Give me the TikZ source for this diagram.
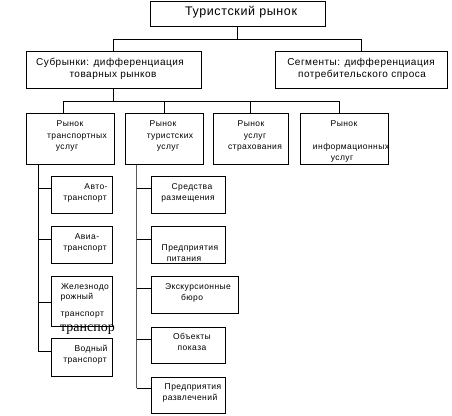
\documentclass[tikz,border=0pt]{standalone}
\usepackage{fontspec}
\setmainfont{Liberation Sans}[LetterSpace=5]
\newfontfamily\ovrfont{Liberation Serif}
\usetikzlibrary{fit}
\begin{document}
\begin{tikzpicture}[x=1pt,y=-1pt,line width=1pt,
  box/.style={draw=black,line width=1pt,inner sep=0pt},
  ts/.style={inner sep=0pt,anchor=mid,font=\fontsize{8.5}{10}\selectfont},
  tm/.style={inner sep=0pt,anchor=mid,font=\fontsize{10}{12}\selectfont},
  tl/.style={inner sep=0pt,anchor=mid,font=\fontsize{12.5}{14}\selectfont},
  conn/.style={draw=black,line width=1pt},
  gconn/.style={draw=black!65,line width=1.5pt}]
\useasboundingbox[fill=white] (0,0) rectangle (452,415);
% boxes
\node[box,fit={(150,1)(325,26)}] (top) {};
\node[box,fit={(26,51)(201,88)}] (sub) {};
\node[box,fit={(275,51)(447,88)}] (seg) {};
\node[box,fit={(26,113)(114,164)}] (A) {};
\node[box,fit={(125,113)(203,164)}] (B) {};
\node[box,fit={(213,113)(288,164)}] (C) {};
\node[box,fit={(300,113)(388,164)}] (D) {};
\node[box,fit={(51,176)(112,213)}] (L1) {};
\node[box,fit={(51,226)(112,263)}] (L2) {};
\node[box,fit={(51,276)(112,326)}] (L3) {};
\node[box,fit={(51,338)(112,376)}] (L4) {};
\node[box,fit={(151,176)(225,213)}] (R1) {};
\node[box,fit={(151,226)(225,263)}] (R2) {};
\node[box,fit={(151,276)(238,313)}] (R3) {};
\node[box,fit={(151,327)(225,363)}] (R4) {};
\node[box,fit={(151,377)(225,413)}] (R5) {};
% texts
\node[tl] (ttop) at (241,13) {Туристский рынок};
\node[tm] (tsub1) at (110,63) {Субрынки: дифференциация};
\node[tm] (tsub2) at (113,75) {товарных рынков};
\node[tm] (tseg1) at (361,63) {Сегменты: дифференциация};
\node[tm] (tseg2) at (362,75) {потребительского спроса};
\node[ts] (tA1) at (70,124) {Рынок};
\node[ts] (tA2) at (77,136) {транспортных};
\node[ts] (tA3) at (67,147) {услуг};
\node[ts] (tB1) at (163,124) {Рынок};
\node[ts] (tB2) at (170,136) {туристских};
\node[ts] (tB3) at (168,147) {услуг};
\node[ts] (tC1) at (251,124) {Рынок};
\node[ts] (tC2) at (255,136) {услуг};
\node[ts] (tC3) at (255,147) {страхования};
\node[ts] (tD1) at (344,124) {Рынок};
\node[ts] (tD2) at (351,147) {информационных};
\node[ts] (tD3) at (342,158) {услуг};
\node[ts] (tL11) at (96,187) {Авто-};
\node[ts] (tL12) at (85,198) {транспорт};
\node[ts] (tL21) at (87,237) {Авиа-};
\node[ts] (tL22) at (85,248) {транспорт};
\node[ts] (tL31) at (85,287) {Железнодо};
\node[ts,anchor=mid west] (tL32) at (60,297) {рожный};
\node[ts,anchor=mid west] (tL33) at (60,314) {транспорт};
\node[inner sep=0pt,anchor=mid,font=\ovrfont\fontsize{14}{16}\selectfont] (tL3o) at (87.5,329) {транспор};
\node[ts] (tL41) at (91,349) {Водный};
\node[ts] (tL42) at (85,360) {транспорт};
\node[ts] (tR11) at (192,187) {Средства};
\node[ts] (tR12) at (188,198) {размещения};
\node[ts] (tR21) at (190,248) {Предприятия};
\node[ts] (tR22) at (184,259) {питания};
\node[ts] (tR31) at (198,287) {Экскурсионные};
\node[ts] (tR32) at (192,298) {бюро};
\node[ts] (tR41) at (192,337) {Объекты};
\node[ts] (tR42) at (192,348) {показа};
\node[ts] (tR51) at (193,387) {Предприятия};
\node[ts] (tR52) at (190,398) {развлечений};
% connectors level 1
\draw[conn] (top.south) -- ++(0,13) coordinate (j1);
\draw[conn] (sub.north) |- (j1) -| (seg.north);
% level 2
\draw[conn] (sub.south) -- ++(0,13) coordinate (j2);
\coordinate (a2) at ([xshift=-7pt]A.north);
\coordinate (d2) at ([xshift=-5pt]D.north);
\draw[conn] (a2) |- (j2) -| (d2);
\draw[conn] (B.north) -- (B.north |- j2);
\draw[conn] (C.north) -- (C.north |- j2);
% left tree
\coordinate (lv) at ([xshift=13pt]A.south west);
\coordinate (lh1) at ([yshift=6.5pt]L1.west);
\coordinate (lh2) at ([yshift=5.5pt]L2.west);
\coordinate (lh3) at ([yshift=-1pt]L3.west);
\coordinate (lh4) at ([yshift=6pt]L4.west);
\draw[conn] (lv) |- (lh4);
\draw[conn] (lh1 -| lv) -- (lh1);
\draw[conn] (lh2 -| lv) -- (lh2);
\draw[conn] (lh3 -| lv) -- (lh3);
% right tree
\coordinate (rv) at ([xshift=12pt]B.south west);
\coordinate (rh1) at ([yshift=6.5pt]R1.west);
\coordinate (rh2) at ([yshift=5.5pt]R2.west);
\coordinate (rh3) at ([yshift=6.5pt]R3.west);
\coordinate (rh4) at ([yshift=6pt]R4.west);
\coordinate (rh5) at ([yshift=7pt]R5.west);
\draw[gconn] (rv) -- (rv |- rh5);
\draw[conn] (rh1 -| rv) -- (rh1);
\draw[conn] (rh2 -| rv) -- (rh2);
\draw[conn] (rh3 -| rv) -- (rh3);
\draw[conn] (rh4 -| rv) -- (rh4);
\draw[conn] (rh5 -| rv) -- (rh5);
\end{tikzpicture}
\end{document}
